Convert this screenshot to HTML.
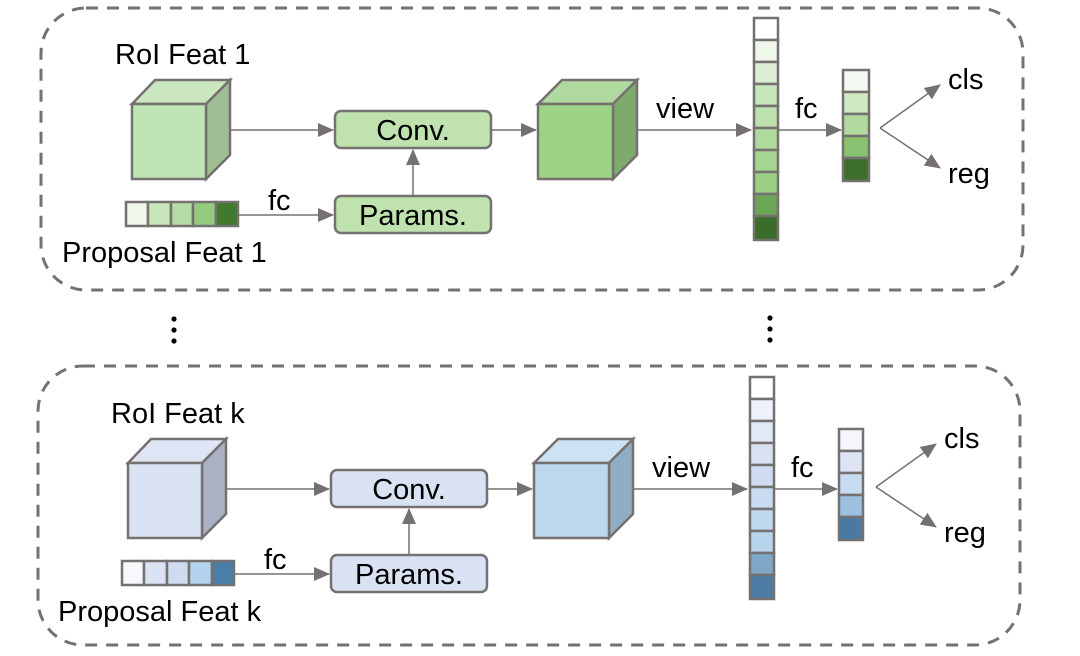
<!DOCTYPE html>
<html><head><meta charset="utf-8"><style>
html,body{margin:0;padding:0;background:#fff;width:1080px;height:656px;overflow:hidden}
svg text{font-family:"Liberation Sans",sans-serif;fill:#000}
</style></head><body>
<svg width="1080" height="656" viewBox="0 0 1080 656" xmlns="http://www.w3.org/2000/svg">
<defs>
<marker id="ah2" markerWidth="16" markerHeight="16" refX="15" refY="8" orient="auto" markerUnits="userSpaceOnUse" viewBox="0 0 16 16">
<path d="M0,1 L16,8 L0,15 z" fill="#767171"/></marker>
</defs>
<rect x="41" y="8" width="982" height="282" rx="45" fill="none" stroke="#767171" stroke-width="3" stroke-dasharray="12,9"/>
<rect x="38" y="366" width="982" height="279" rx="45" fill="none" stroke="#767171" stroke-width="3" stroke-dasharray="12,9"/>
<g fill="#000"><circle cx="174" cy="319" r="2.6"/><circle cx="174" cy="330" r="2.6"/><circle cx="174" cy="341" r="2.6"/>
<circle cx="770" cy="318" r="2.6"/><circle cx="770" cy="329" r="2.6"/><circle cx="770" cy="340" r="2.6"/></g>

<!-- TOP -->
<g stroke="#767171" stroke-width="2.5">
<text x="115" y="64" font-size="29" stroke="none">RoI Feat 1</text>
<polygon points="132,104 155,80 230,80 206,104" fill="#cbe7c0"/>
<polygon points="206,104 230,80 230,155 206,179" fill="#9fbe93"/>
<rect x="132" y="104" width="74" height="75" fill="#c1e4b4"/>
<line x1="230" y1="130" x2="333" y2="130" stroke-width="1.5" marker-end="url(#ah2)"/>
<rect x="335" y="111" width="156" height="37" rx="6" fill="#bfe2af"/>
<text x="413" y="140" font-size="29" stroke="none" text-anchor="middle">Conv.</text>
<rect x="335" y="196" width="156" height="37" rx="6" fill="#bfe2af"/>
<text x="413" y="225" font-size="29" stroke="none" text-anchor="middle">Params.</text>
<line x1="413" y1="196" x2="413" y2="150" stroke-width="1.5" marker-end="url(#ah2)"/>
<rect x="126" y="202" width="22" height="24" fill="#eef7ea"/><rect x="148" y="202" width="23" height="24" fill="#c8e6bc"/><rect x="171" y="202" width="22" height="24" fill="#b5dca5"/><rect x="193" y="202" width="23" height="24" fill="#94cb7e"/><rect x="216" y="202" width="22" height="24" fill="#3f7a2e"/>
<line x1="238" y1="215" x2="333" y2="215" stroke-width="1.5" marker-end="url(#ah2)"/>
<text x="268" y="210" font-size="29" stroke="none">fc</text>
<text x="62" y="262" font-size="29" stroke="none">Proposal Feat 1</text>
<line x1="491" y1="130" x2="536" y2="130" stroke-width="1.5" marker-end="url(#ah2)"/>
<polygon points="538,104 562,80 637,80 613,104" fill="#b0d99f"/>
<polygon points="613,104 637,80 637,155 613,179" fill="#7eaa6b"/>
<rect x="538" y="104" width="75" height="75" fill="#9dd386"/>
<line x1="637" y1="130" x2="751" y2="130" stroke-width="1.5" marker-end="url(#ah2)"/>
<text x="656" y="118" font-size="29" stroke="none">view</text>
<rect x="754" y="18" width="24" height="22" fill="#ffffff"/><rect x="754" y="40" width="24" height="22" fill="#eef7ea"/><rect x="754" y="62" width="24" height="22" fill="#dcefd4"/><rect x="754" y="84" width="24" height="22" fill="#c7e6ba"/><rect x="754" y="106" width="24" height="22" fill="#bde1ae"/><rect x="754" y="128" width="24" height="22" fill="#b0db9e"/><rect x="754" y="150" width="24" height="22" fill="#a4d690"/><rect x="754" y="172" width="24" height="22" fill="#98cf82"/><rect x="754" y="194" width="24" height="22" fill="#6ba556"/><rect x="754" y="216" width="24" height="24" fill="#3b6c2a"/>
<line x1="778" y1="130" x2="841" y2="130" stroke-width="1.5" marker-end="url(#ah2)"/>
<text x="795" y="118" font-size="29" stroke="none">fc</text>
<rect x="843" y="70" width="26" height="22" fill="#f3f9f0"/><rect x="843" y="92" width="26" height="22" fill="#cde8c2"/><rect x="843" y="114" width="26" height="22" fill="#b1da9f"/><rect x="843" y="136" width="26" height="22" fill="#89c271"/><rect x="843" y="158" width="26" height="23" fill="#3c6f2b"/>
<line x1="880" y1="128" x2="940" y2="85" stroke-width="1.5" marker-end="url(#ah2)"/>
<line x1="880" y1="128" x2="940" y2="168" stroke-width="1.5" marker-end="url(#ah2)"/>
<text x="948" y="89" font-size="29" stroke="none">cls</text>
<text x="948" y="183" font-size="29" stroke="none">reg</text>
</g>

<!-- BOTTOM -->
<g stroke="#767171" stroke-width="2.5" transform="translate(-4,359)">
<text x="115" y="64" font-size="29" stroke="none">RoI Feat k</text>
<polygon points="132,104 155,80 230,80 206,104" fill="#dfe5f5"/>
<polygon points="206,104 230,80 230,155 206,179" fill="#aab2c4"/>
<rect x="132" y="104" width="74" height="75" fill="#dae3f3"/>
<line x1="230" y1="130" x2="333" y2="130" stroke-width="1.5" marker-end="url(#ah2)"/>
<rect x="335" y="111" width="156" height="37" rx="6" fill="#d9e2f3"/>
<text x="413" y="140" font-size="29" stroke="none" text-anchor="middle">Conv.</text>
<rect x="335" y="196" width="156" height="37" rx="6" fill="#d9e2f3"/>
<text x="413" y="225" font-size="29" stroke="none" text-anchor="middle">Params.</text>
<line x1="413" y1="196" x2="413" y2="150" stroke-width="1.5" marker-end="url(#ah2)"/>
<rect x="126" y="202" width="22" height="24" fill="#f6f8fc"/><rect x="148" y="202" width="23" height="24" fill="#dae3f3"/><rect x="171" y="202" width="22" height="24" fill="#cfdcf0"/><rect x="193" y="202" width="23" height="24" fill="#b4d3ee"/><rect x="216" y="202" width="22" height="24" fill="#4a7ea6"/>
<line x1="238" y1="215" x2="333" y2="215" stroke-width="1.5" marker-end="url(#ah2)"/>
<text x="268" y="210" font-size="29" stroke="none">fc</text>
<text x="62" y="262" font-size="29" stroke="none">Proposal Feat k</text>
<line x1="491" y1="130" x2="536" y2="130" stroke-width="1.5" marker-end="url(#ah2)"/>
<polygon points="538,104 562,80 637,80 613,104" fill="#cde3f3"/>
<polygon points="613,104 637,80 637,155 613,179" fill="#8faec6"/>
<rect x="538" y="104" width="75" height="75" fill="#bdd7ee"/>
<line x1="637" y1="130" x2="751" y2="130" stroke-width="1.5" marker-end="url(#ah2)"/>
<text x="656" y="118" font-size="29" stroke="none">view</text>
<rect x="754" y="18" width="24" height="22" fill="#ffffff"/><rect x="754" y="40" width="24" height="22" fill="#eef2fa"/><rect x="754" y="62" width="24" height="22" fill="#e2e9f6"/><rect x="754" y="84" width="24" height="22" fill="#d8e2f3"/><rect x="754" y="106" width="24" height="22" fill="#d0dcf1"/><rect x="754" y="128" width="24" height="22" fill="#c8dbf0"/><rect x="754" y="150" width="24" height="22" fill="#c0d9ef"/><rect x="754" y="172" width="24" height="22" fill="#b8d5ee"/><rect x="754" y="194" width="24" height="22" fill="#7fa7c8"/><rect x="754" y="216" width="24" height="24" fill="#4c7ca3"/>
<line x1="778" y1="130" x2="841" y2="130" stroke-width="1.5" marker-end="url(#ah2)"/>
<text x="795" y="118" font-size="29" stroke="none">fc</text>
<rect x="843" y="70" width="24" height="22" fill="#f5f7fc"/><rect x="843" y="92" width="24" height="22" fill="#dde5f5"/><rect x="843" y="114" width="24" height="22" fill="#c8dcf1"/><rect x="843" y="136" width="24" height="22" fill="#9cc0e0"/><rect x="843" y="158" width="24" height="23" fill="#4a7aa2"/>
<line x1="880" y1="128" x2="940" y2="85" stroke-width="1.5" marker-end="url(#ah2)"/>
<line x1="880" y1="128" x2="940" y2="168" stroke-width="1.5" marker-end="url(#ah2)"/>
<text x="948" y="89" font-size="29" stroke="none">cls</text>
<text x="948" y="183" font-size="29" stroke="none">reg</text>
</g>
</svg>
</body></html>
